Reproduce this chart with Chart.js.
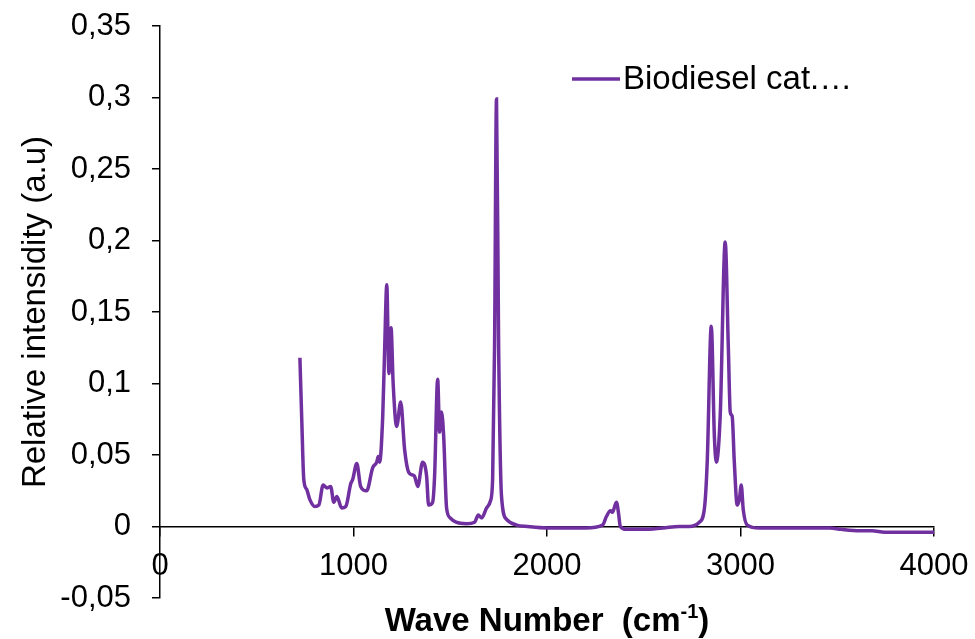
<!DOCTYPE html>
<html>
<head>
<meta charset="utf-8">
<script src="https://cdn.jsdelivr.net/npm/chart.js@4/dist/chart.umd.min.js"></script>
<style>
  html, body { margin: 0; padding: 0; background: #fff; }
  #wrap { width: 975px; height: 639px; position: relative; }
</style>
</head>
<body>
<div id="wrap"><canvas id="spectrum"></canvas></div>
<script>
// spectrum (wave number in cm-1, relative intensity)
const waveNumbers = [
  723, 733, 743, 758, 774, 800, 821, 843, 862, 882, 898, 914, 939, 960, 986, 996,
  1017, 1037, 1068, 1099, 1120, 1128, 1135, 1151, 1161, 1172, 1183, 1194, 1205, 1223,
  1244, 1264, 1285, 1306, 1316, 1332, 1357, 1378, 1388, 1409, 1419, 1435, 1445, 1455,
  1466, 1481, 1500, 1530, 1584, 1626, 1645, 1662, 1688, 1708, 1719, 1729, 1739, 1750,
  1765, 1791, 1843, 1900, 2000, 2100, 2200, 2287, 2307, 2328, 2338, 2359, 2369, 2379,
  2410, 2500, 2600, 2684, 2735, 2787, 2813, 2828, 2849, 2865, 2875, 2895, 2921, 2937,
  2947, 2957, 2968, 2983, 2994, 3004, 3014, 3035, 3097, 3200, 3300, 3460, 3520, 3615,
  3680, 3745, 3850, 4000
];
const intensity = [
  0.118, 0.073, 0.033, 0.026, 0.019, 0.014, 0.015, 0.029, 0.027, 0.028, 0.017, 0.021, 0.013, 0.014, 0.030, 0.033,
  0.044, 0.028, 0.025, 0.041, 0.045, 0.049, 0.045, 0.077, 0.124, 0.169, 0.107, 0.139, 0.100, 0.070,
  0.087, 0.054, 0.038, 0.036, 0.035, 0.028, 0.045, 0.035, 0.015, 0.017, 0.035, 0.103, 0.066, 0.080,
  0.063, 0.013, 0.006, 0.003, 0.002, 0.003, 0.008, 0.006, 0.013, 0.018, 0.033, 0.126, 0.299, 0.126,
  0.021, 0.005, 0.001, 0.000, -0.001, -0.001, -0.001, 0.001, 0.007, 0.011, 0.010, 0.017, 0.010, 0.000,
  -0.002, -0.002, -0.001, 0.000, 0.000, 0.003, 0.012, 0.045, 0.140, 0.063, 0.045, 0.077, 0.199, 0.126,
  0.080, 0.077, 0.045, 0.015, 0.019, 0.029, 0.012, 0.001, -0.001, -0.001, -0.001, -0.001, -0.002, -0.003,
  -0.003, -0.004, -0.004, -0.004
];
const seriesName = 'Biodiesel cat.…';
const xTicks = [0, 1000, 2000, 3000, 4000];
const yTicks = [-0.05, 0, 0.05, 0.1, 0.15, 0.2, 0.25, 0.3, 0.35];

const FONT = '"Liberation Sans", Arial, sans-serif';
const PURPLE = '#7030A0';

// legend drawn inside the plot, up right
const legendInPlot = {
  id: 'legendInPlot',
  afterDraw(chart) {
    const ctx = chart.ctx;
    const ds = chart.data.datasets[0];
    ctx.save();
    ctx.strokeStyle = ds.borderColor;
    ctx.lineWidth = 3.5;
    ctx.beginPath();
    ctx.moveTo(572, 79);
    ctx.lineTo(620, 79);
    ctx.stroke();
    ctx.fillStyle = '#000';
    ctx.font = '33px ' + FONT;
    ctx.textBaseline = 'middle';
    ctx.fillText(ds.label, 623, 80);
    ctx.restore();
  }
};

// x title with the superscript -1
const xTitle = {
  id: 'xTitle',
  afterDraw(chart) {
    const ctx = chart.ctx;
    const main = 'bold 33px ' + FONT;
    const sup = 'bold 20px ' + FONT;
    const a = 'Wave Number  (cm', b = '-1', c = ')';
    ctx.save();
    ctx.fillStyle = '#000';
    ctx.textBaseline = 'alphabetic';
    ctx.font = main;
    const wa = ctx.measureText(a).width, wc = ctx.measureText(c).width;
    ctx.font = sup;
    const wb = ctx.measureText(b).width;
    let x = 547 - (wa + wb + wc) / 2;
    const base = 631;
    ctx.font = main; ctx.fillText(a, x, base); x += wa;
    ctx.font = sup; ctx.fillText(b, x, base - 13); x += wb;
    ctx.font = main; ctx.fillText(c, x, base);
    ctx.restore();
  }
};

const fmt = v => String(Math.round(v * 100) / 100).replace('.', ',');

new Chart(document.getElementById('spectrum'), {
  type: 'line',
  data: {
    datasets: [{
      label: seriesName,
      data: waveNumbers.map((w, i) => ({ x: w, y: intensity[i] })),
      borderColor: PURPLE,
      backgroundColor: PURPLE,
      borderWidth: 3.5,
      pointRadius: 0,
      cubicInterpolationMode: 'monotone',
      fill: false
    }]
  },
  options: {
    responsive: true,
    maintainAspectRatio: false,
    animation: false,
    layout: { padding: { top: 26, right: 41, bottom: 41, left: 0 } },
    plugins: {
      legend: { display: false },
      tooltip: { enabled: false }
    },
    scales: {
      x: {
        type: 'linear',
        position: { y: 0 },
        min: 0,
        max: 4000,
        afterBuildTicks: s => { s.ticks = xTicks.map(v => ({ value: v })); },
        afterFit: s => { s.height = 0; s.paddingLeft = 0; s.paddingRight = 0; },
        border: { display: true, color: '#000', width: 1.5 },
        grid: { drawOnChartArea: false, drawTicks: true, tickLength: 9, color: '#000', lineWidth: 1.5 },
        ticks: { color: '#000', padding: 12, maxRotation: 0, font: { family: FONT, size: 31 }, callback: v => String(v) }
      },
      y: {
        type: 'linear',
        position: 'left',
        min: -0.05,
        max: 0.35,
        afterBuildTicks: s => { s.ticks = yTicks.map(v => ({ value: v })); },
        afterFit: s => { s.width = 160; s.paddingTop = 0; s.paddingBottom = 0; },
        border: { display: true, color: '#000', width: 1.5 },
        grid: { drawOnChartArea: false, drawTicks: true, tickLength: 8, color: '#000', lineWidth: 1.5 },
        ticks: { color: '#000', padding: 21, font: { family: FONT, size: 31 }, callback: v => fmt(v) },
        title: {
          display: true,
          text: 'Relative intensidity (a.u)',
          color: '#000',
          padding: { top: 16, bottom: 0 },
          font: { family: FONT, size: 33 }
        }
      }
    }
  },
  plugins: [legendInPlot, xTitle]
});
</script>
</body>
</html>
